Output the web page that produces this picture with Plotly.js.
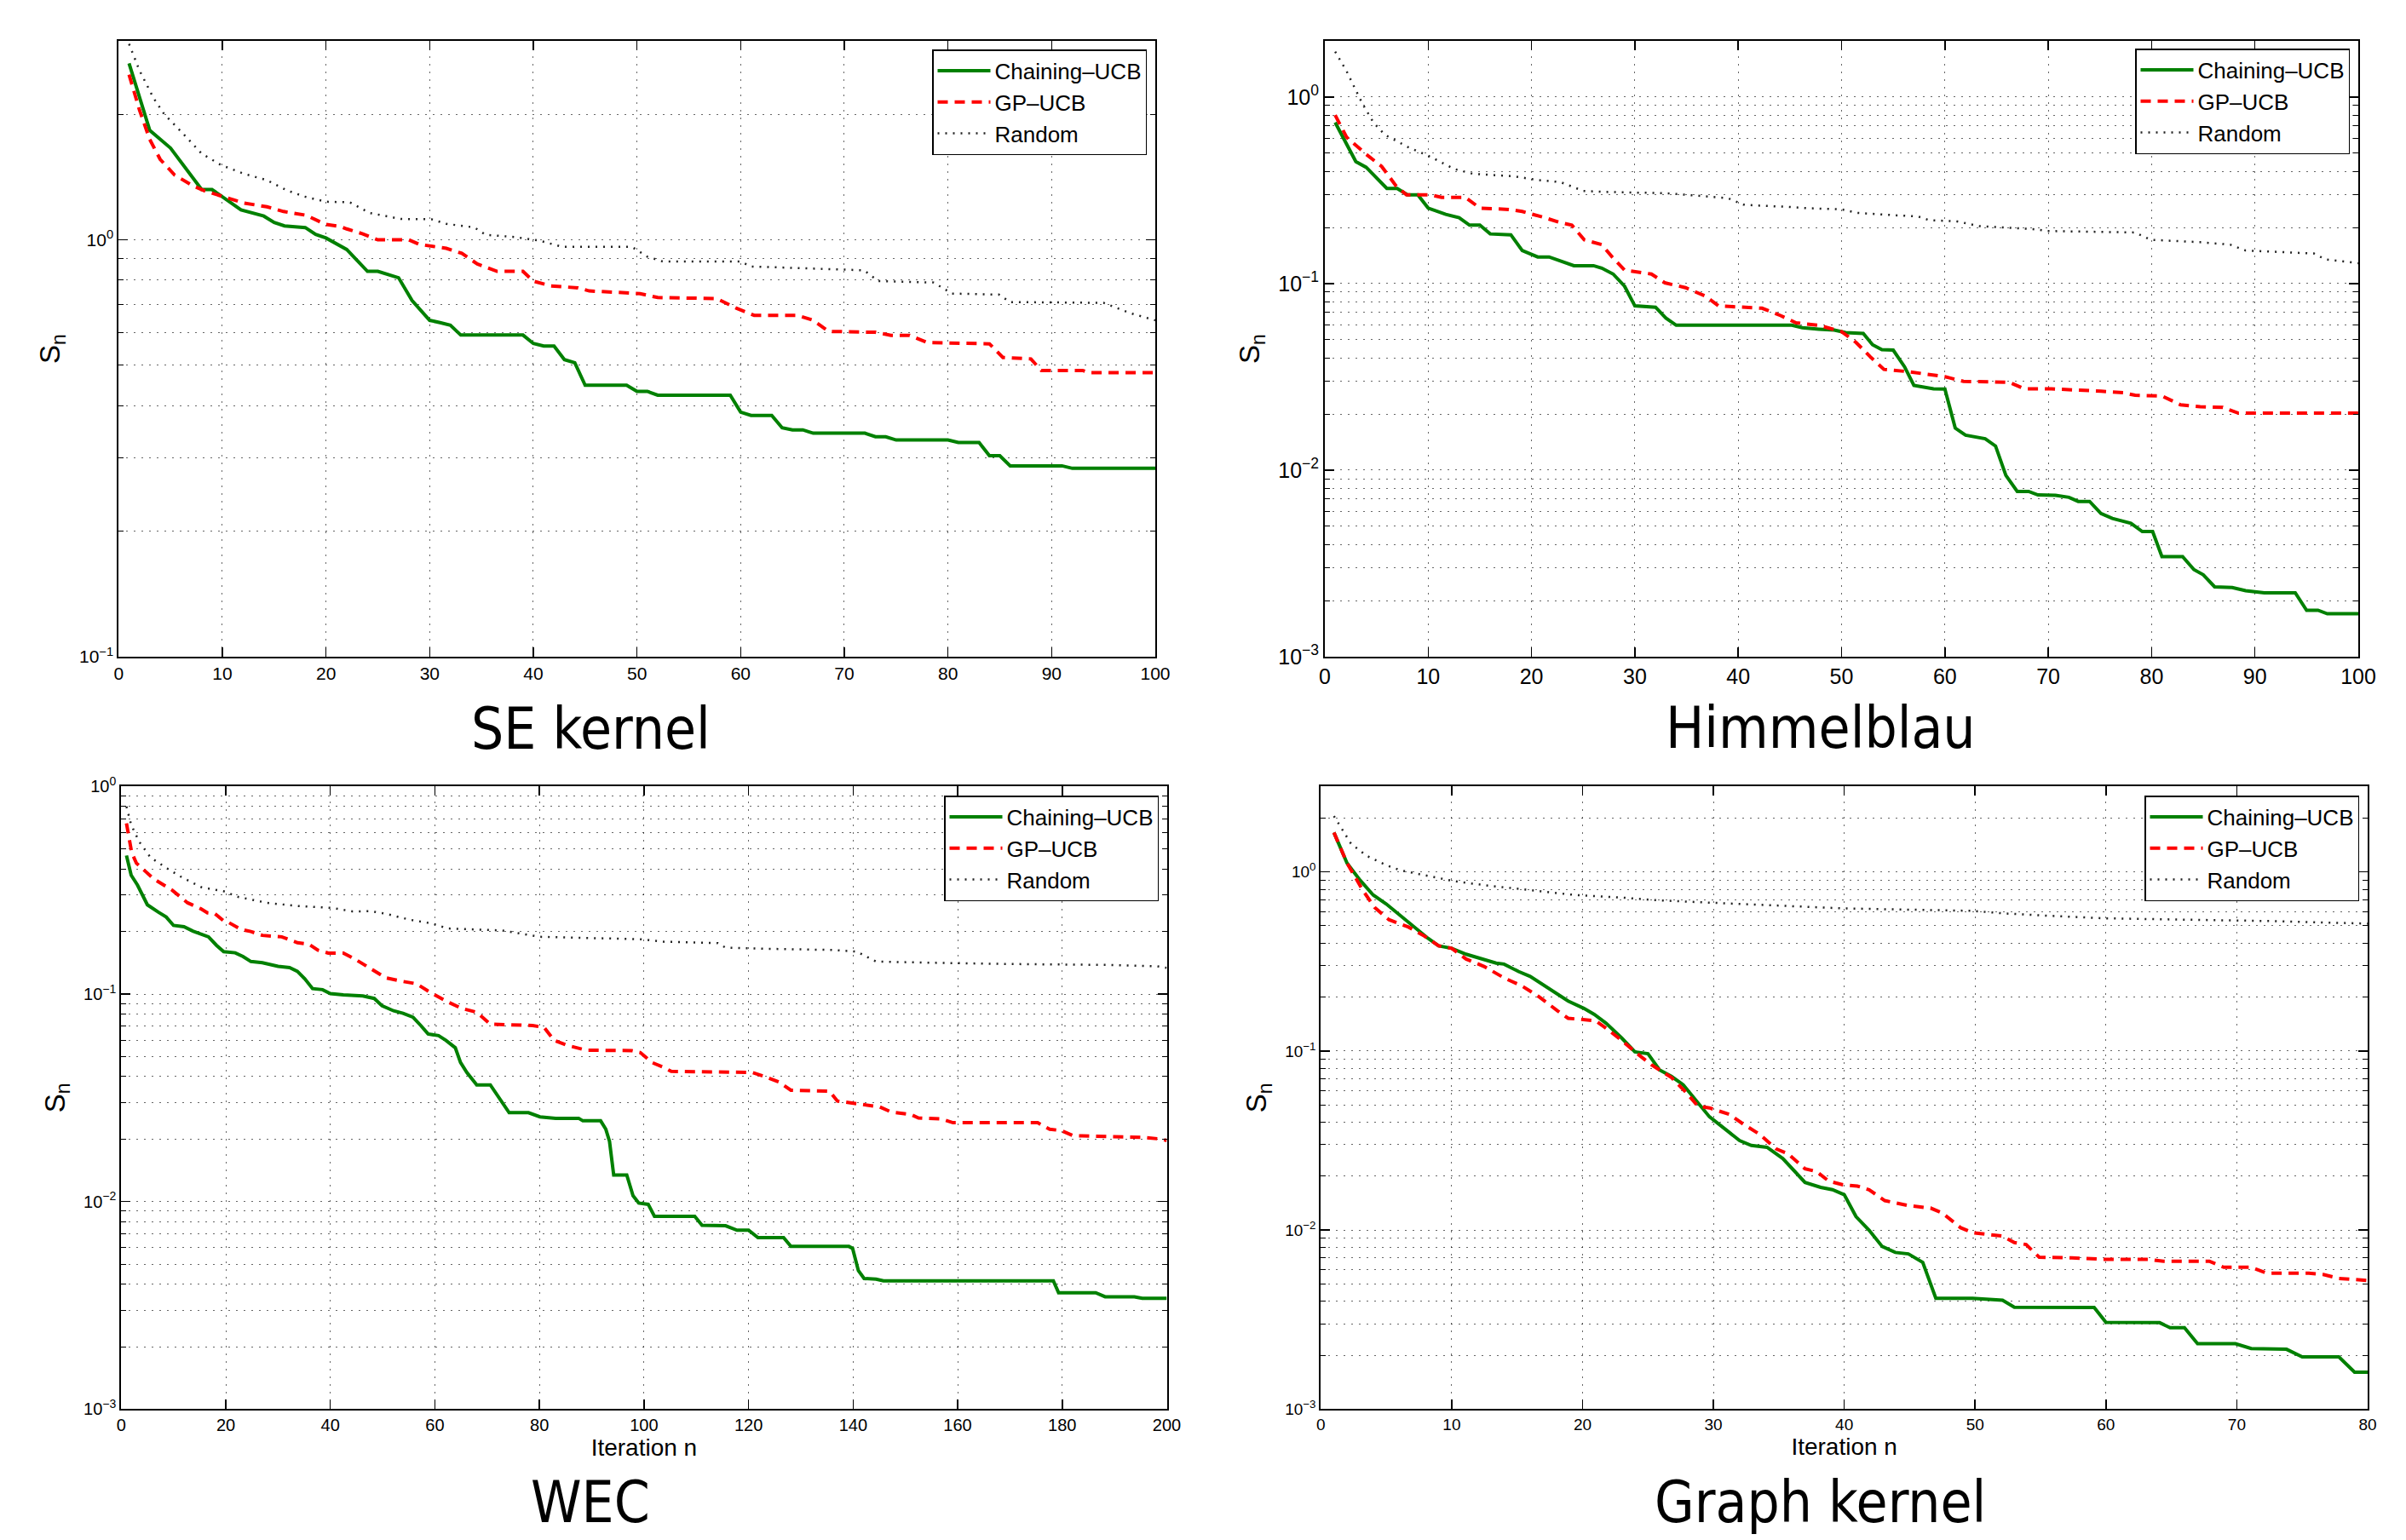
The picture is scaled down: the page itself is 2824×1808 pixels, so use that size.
<!DOCTYPE html>
<html><head><meta charset="utf-8">
<script src="https://cdn.plot.ly/plotly-3.0.1.min.js"></script>
<style>html,body{margin:0;padding:0;background:#fff}#chart{width:2824px;height:1808px}</style>
</head><body><div id="chart"></div>
<script>
// ---------------- data (iteration, S_n) ----------------
const seChaining = [[1,2.65],[3,1.83],[5,1.66],[6.3,1.50],[8,1.32],[9,1.32],[10,1.27],[11.8,1.18],[14,1.14],[15,1.10],[16,1.08],[18,1.07],[19,1.03],[20,1.01],[22,0.948],[24,0.84],[25,0.84],[27,0.811],[28.3,0.715],[30,0.641],[31,0.633],[32,0.624],[33,0.591],[39,0.591],[40,0.564],[41,0.556],[42,0.556],[43,0.516],[44,0.507],[45,0.448],[49,0.448],[50,0.433],[51,0.433],[52,0.424],[59,0.424],[60,0.386],[61,0.379],[63,0.379],[64,0.354],[65,0.350],[66,0.350],[67,0.3436],[72,0.3436],[73,0.337],[74,0.337],[75,0.331],[80,0.331],[81,0.3266],[83,0.3266],[84,0.3035],[85,0.3035],[86,0.287],[91,0.287],[92,0.283],[100,0.283]];
const seGPUCB = [[1,2.49],[2,2.05],[3,1.74],[4,1.56],[5.4,1.43],[7.2,1.346],[8.3,1.31],[10.5,1.258],[12.1,1.225],[14.3,1.20],[15.9,1.169],[18.1,1.145],[19.9,1.09],[21.4,1.076],[22,1.062],[23.5,1.034],[25,1.0],[28,1.0],[29,0.975],[31.6,0.954],[33.1,0.928],[34.6,0.875],[36.5,0.84],[39,0.84],[40,0.796],[41.7,0.775],[44.3,0.767],[45.4,0.754],[48,0.75],[50.3,0.743],[52,0.727],[57.7,0.723],[59.6,0.685],[61.3,0.659],[65.5,0.659],[67,0.641],[68.5,0.603],[73,0.6],[74.5,0.59],[76.3,0.59],[78,0.567],[84,0.563],[85.3,0.522],[88,0.518],[89,0.486],[93,0.486],[93.6,0.48],[100,0.48]];
const seRandom = [[1,2.95],[2,2.55],[3.35,2.19],[4.4,2.0],[6.1,1.81],[8,1.61],[9.9,1.51],[12.1,1.44],[14.3,1.39],[16.2,1.315],[17.9,1.27],[20,1.234],[22.3,1.23],[24.2,1.16],[27.2,1.122],[30.2,1.12],[31.6,1.092],[34.3,1.071],[35.4,1.028],[38.3,1.015],[40.6,0.995],[42.8,0.962],[49.5,0.962],[51,0.911],[52.5,0.887],[60,0.887],[61,0.863],[69.6,0.851],[71.9,0.845],[73.3,0.796],[78.6,0.79],[80.4,0.743],[84.9,0.739],[86,0.709],[95,0.706],[97.5,0.668],[100,0.641]];

const hbChaining = [[1,0.731],[3,0.451],[4,0.42],[6,0.3236],[7,0.3236],[8,0.299],[9,0.299],[10,0.254],[11.7,0.235],[13,0.2254],[14,0.2058],[15,0.2058],[16,0.1846],[18,0.1826],[19.1,0.1504],[20.6,0.139],[21.7,0.139],[24.1,0.1248],[26,0.1248],[26.8,0.121],[27.9,0.1125],[29,0.0969],[30,0.076],[32,0.0747],[33,0.0654],[34,0.0598],[45.2,0.0598],[46.2,0.058],[47.8,0.057],[49.3,0.0563],[50.4,0.0546],[52.1,0.054],[53,0.047],[53.9,0.0442],[55,0.044],[56.1,0.0358],[57,0.0285],[58.9,0.0273],[60,0.0272],[61,0.0168],[62,0.0154],[63.9,0.01474],[64.9,0.01346],[65.9,0.00937],[67,0.00769],[68.1,0.00769],[69,0.00737],[70.7,0.00733],[72,0.00715],[72.9,0.0068],[74,0.0068],[75.1,0.00586],[76.2,0.00551],[78,0.00519],[79.1,0.00469],[80.1,0.00469],[81,0.00344],[83,0.00344],[84.1,0.00293],[85,0.00275],[86.1,0.00237],[87.8,0.00235],[89.1,0.00226],[90.9,0.0022],[93.9,0.0022],[95,0.001774],[96.1,0.001774],[97,0.0017],[100,0.0017]];
const hbGPUCB = [[1,0.8],[2.1,0.61],[4,0.4935],[5.5,0.4245],[6.9,0.3337],[7.9,0.299],[10.2,0.299],[11.3,0.29],[13.6,0.29],[15,0.254],[17.8,0.2496],[19.1,0.2437],[21.3,0.2254],[22.8,0.2122],[23.9,0.2058],[25.1,0.1718],[26.8,0.1617],[27.8,0.139],[29,0.1182],[31.6,0.1125],[32.9,0.101],[34.9,0.0951],[36.8,0.0858],[38.1,0.076],[42.3,0.0738],[44.1,0.0674],[45.6,0.0616],[47.8,0.0598],[50,0.0553],[51.4,0.0484],[52.8,0.0404],[54.1,0.0347],[56.5,0.0337],[58.1,0.0327],[60,0.0317],[61.8,0.0299],[66.2,0.0296],[67.7,0.0273],[70.3,0.0273],[75.1,0.0265],[77.3,0.026],[78.4,0.0252],[81,0.025],[82.8,0.0224],[84.7,0.0219],[86.9,0.0217],[88.4,0.0202],[100,0.0202]];
const hbRandom = [[1,1.75],[2.1,1.377],[3.6,0.93],[4.7,0.731],[5.8,0.628],[8,0.5406],[10.2,0.479],[12.5,0.412],[14.3,0.388],[18.3,0.376],[20.6,0.359],[22.8,0.35],[25,0.314],[27.2,0.31],[33.1,0.305],[39,0.287],[40.5,0.2653],[41.9,0.262],[44.9,0.2577],[46.4,0.254],[50,0.25],[51.5,0.2394],[55.2,0.2323],[57.4,0.229],[58.5,0.2186],[61.1,0.216],[63.3,0.2034],[68.5,0.196],[69.9,0.1914],[78.4,0.188],[79.9,0.1718],[84.7,0.1667],[87.6,0.1618],[89.1,0.1504],[95.7,0.145],[96.8,0.135],[100,0.1286]];

const wecChaining = [[1,0.465],[1.9,0.3736],[3.1,0.335],[5,0.269],[7.1,0.248],[8.6,0.235],[10,0.214],[12,0.211],[13.7,0.201],[15.5,0.194],[16.7,0.1886],[18.2,0.1718],[19.6,0.16],[21.8,0.158],[23.3,0.1515],[24.8,0.1434],[27,0.1416],[30,0.1359],[32.2,0.134],[33.7,0.1286],[35.1,0.1185],[36.6,0.1062],[38.5,0.105],[40,0.1005],[42.5,0.099],[46.2,0.0978],[48.4,0.0952],[49.9,0.0877],[52.1,0.083],[53.9,0.0808],[55.8,0.0774],[57.3,0.0705],[58.7,0.0642],[60.7,0.063],[62.1,0.0598],[63.9,0.0551],[64.9,0.0468],[66.1,0.0419],[68,0.0365],[70.6,0.0365],[72.5,0.031],[74.2,0.0268],[77.9,0.0268],[80.1,0.0256],[83.1,0.0252],[87.5,0.0252],[88.3,0.0245],[91.7,0.0245],[92.7,0.0223],[93.4,0.0195],[94.2,0.01343],[96.7,0.01343],[97.9,0.01068],[99,0.00984],[100.8,0.0097],[102,0.00849],[109.7,0.00849],[111.1,0.00769],[115.6,0.00765],[117.8,0.00728],[120,0.00728],[121.8,0.0067],[126.7,0.0067],[128.1,0.00608],[139.2,0.00608],[139.9,0.00595],[141,0.00465],[142.1,0.00426],[144.4,0.00423],[145.8,0.00415],[178.3,0.00415],[179.3,0.00364],[186.4,0.00364],[188.2,0.00348],[193.8,0.00348],[195.3,0.00342],[200,0.00342]];
const wecGPUCB = [[1,0.664],[2,0.48],[2.9,0.427],[6.2,0.359],[9.7,0.317],[12.7,0.275],[15.2,0.2576],[16.5,0.246],[17.9,0.244],[19.7,0.224],[20.4,0.2222],[22.9,0.2047],[24.8,0.2],[27,0.1917],[30.7,0.1886],[33.7,0.1767],[35.9,0.1738],[37.6,0.1627],[39.6,0.1575],[42.5,0.1575],[44.7,0.1474],[47.7,0.1322],[50.6,0.1197],[53.6,0.1153],[56.5,0.112],[58.7,0.1033],[62.1,0.0926],[65.1,0.0853],[68,0.0817],[70.6,0.0716],[78.7,0.0705],[80.9,0.069],[82.8,0.0598],[85.3,0.0566],[89,0.0536],[97.6,0.0534],[99.3,0.0522],[101.5,0.0468],[103.8,0.0443],[105.2,0.0424],[120.7,0.0419],[123,0.0401],[125.9,0.0376],[128.1,0.0344],[135.5,0.034],[137,0.0305],[145.1,0.0286],[147.3,0.027],[151,0.0263],[152.5,0.0253],[156.9,0.025],[159.1,0.024],[175.3,0.024],[177.6,0.0223],[179.8,0.022],[182,0.0208],[189.4,0.0206],[195.3,0.0204],[199,0.02],[200,0.0197]];
const wecRandom = [[1,0.8],[1.9,0.653],[3.45,0.541],[5.6,0.455],[8.9,0.401],[11.6,0.365],[15.3,0.327],[19.7,0.312],[22.5,0.293],[27.9,0.275],[33.3,0.266],[40.3,0.26],[44.2,0.25],[47.7,0.2506],[50.6,0.2438],[55,0.2285],[59.5,0.2186],[62.4,0.207],[72.8,0.2024],[77.2,0.194],[80.1,0.1886],[99.3,0.1836],[103.8,0.1786],[114.1,0.176],[115.6,0.1672],[124.4,0.165],[136.2,0.163],[140.7,0.16],[144.4,0.1434],[154,0.1416],[168.7,0.1396],[189.7,0.138],[198.2,0.136],[200,0.1336]];

const gkChaining = [[1,1.66],[2,1.12],[3,0.898],[4,0.743],[5,0.662],[6.1,0.569],[7.4,0.4765],[8.2,0.425],[9,0.3866],[10,0.3745],[11.1,0.347],[12.2,0.33],[13.4,0.3095],[14,0.3056],[15.1,0.278],[16,0.261],[16.9,0.237],[18.1,0.2063],[18.9,0.19],[20.1,0.1729],[20.9,0.16],[21.8,0.1429],[23,0.118],[24,0.0989],[25,0.0965],[25.9,0.0782],[26.8,0.0721],[27.7,0.0647],[28.8,0.0518],[29.7,0.0429],[30.9,0.0366],[32,0.0316],[32.9,0.0297],[34.1,0.029],[35.3,0.0251],[37,0.01845],[38.2,0.01732],[39.1,0.0168],[40,0.01575],[40.9,0.0119],[41.9,0.00998],[42.9,0.0081],[43.9,0.0075],[44.9,0.00736],[46,0.0066],[47,0.00416],[49.8,0.00416],[50.7,0.00411],[52.1,0.00406],[53,0.00371],[59.1,0.0037],[60,0.00305],[64.1,0.00304],[64.9,0.00285],[66,0.00285],[67,0.00232],[69.9,0.00232],[71.1,0.00218],[73.8,0.00216],[75,0.00196],[77.8,0.00196],[79,0.00161],[80,0.00161]];
const gkGPUCB = [[1,1.66],[2,1.12],[3.2,0.791],[4.1,0.634],[5.2,0.541],[6.7,0.492],[7.9,0.4387],[9,0.3866],[10,0.3745],[11.1,0.326],[12.5,0.296],[14,0.256],[15.4,0.23],[16.6,0.2024],[18.1,0.1675],[18.9,0.1523],[21,0.1475],[21.8,0.134],[23,0.1145],[24,0.0989],[25.3,0.0834],[26.8,0.0711],[27.9,0.0589],[28.8,0.0493],[29.7,0.0481],[31.2,0.0443],[32.3,0.039],[33.5,0.0344],[34.8,0.0284],[35.7,0.0267],[37,0.022],[37.9,0.0212],[38.8,0.0188],[39.9,0.0179],[41,0.0176],[41.9,0.0168],[43.1,0.0146],[44.9,0.0137],[46.6,0.01327],[47.5,0.01245],[48.9,0.0103],[49.8,0.00967],[52.1,0.00925],[53,0.00852],[53.9,0.0083],[54.9,0.00705],[57.4,0.007],[59.7,0.00687],[63.2,0.00687],[64.4,0.0067],[67.9,0.0067],[69,0.0062],[71.1,0.0062],[72.3,0.00575],[75.5,0.00575],[76.6,0.00565],[77.8,0.00537],[80,0.00523]];
const gkRandom = [[1,2.05],[1.57,1.75],[2.3,1.44],[3.5,1.23],[5,1.09],[6.1,1.02],[7.9,0.957],[10.2,0.887],[12.5,0.843],[16,0.791],[19.5,0.742],[23,0.719],[25.3,0.697],[29.4,0.675],[35.2,0.646],[39.9,0.6256],[49.8,0.606],[52.1,0.587],[55.6,0.569],[59.7,0.551],[66.1,0.541],[73.1,0.5307],[80,0.514]];

const seriesNames = ['Chaining\u2013UCB', 'GP\u2013UCB', 'Random'];
const panelTitles = ['SE kernel', 'Himmelblau', 'WEC', 'Graph kernel'];
const xLabel = 'Iteration n';
const yLabel = 'S<sub>n</sub>';
const xRanges = [[0,100],[0,100],[0,200],[0,80]];
const xTickSteps = [10, 10, 20, 10];
const yRangesLin = [[0.1,3],[0.001,2],[0.001,1],[0.001,3]];
const yTickVals = [[0.1,1],[0.001,0.01,0.1,1],[0.001,0.01,0.1,1],[0.001,0.01,0.1,1]];
const yTickText = [
  ['10<sup>\u22121</sup>','10<sup>0</sup>'],
  ['10<sup>\u22123</sup>','10<sup>\u22122</sup>','10<sup>\u22121</sup>','10<sup>0</sup>'],
  ['10<sup>\u22123</sup>','10<sup>\u22122</sup>','10<sup>\u22121</sup>','10<sup>0</sup>'],
  ['10<sup>\u22123</sup>','10<sup>\u22122</sup>','10<sup>\u22121</sup>','10<sup>0</sup>']
];

// ---------------- layout geometry (pixels of the 2824x1808 page) ----------------
const W = 2824, H = 1808;
const boxes = [
  {l:139.3, r:1356, t:48, b:771},
  {l:1555, r:2768, t:48, b:771},
  {l:142.3, r:1369.5, t:923.3, b:1654.4},
  {l:1550.3, r:2779, t:923.3, b:1654.4}
];
const tickFont = [21, 25, 20, 19];
const legendPos = [[1346,58],[2758,57],[1360,934],[2769,934]];
const titlePos = [[693,856],[2137,855],[693,1764],[2136,1764]];

const FONT = 'Liberation Sans, Arial, Helvetica, sans-serif';
const GRID = 'rgba(0,0,0,0.6)';
const GDASH = '2px,7px';

const colors = ['#008000', '#ff0000', '#222222'];
const dashes = ['solid', '12px,8px', '2px,7px'];
const widths = [4, 4, 2.5];

const allSeries = [
  [seChaining, seGPUCB, seRandom],
  [hbChaining, hbGPUCB, hbRandom],
  [wecChaining, wecGPUCB, wecRandom],
  [gkChaining, gkGPUCB, gkRandom]
];

function minorVals(lo, hi) {
  const v = [];
  const e0 = Math.floor(Math.log10(lo)), e1 = Math.ceil(Math.log10(hi));
  for (let e = e0; e <= e1; e++) for (let m = 2; m <= 9; m++) {
    const val = m * Math.pow(10, e);
    if (val > lo * 1.0001 && val < hi * 0.9999) v.push(val);
  }
  return v;
}

const traces = [];
const layout = {
  width: W, height: H,
  margin: {l:0, r:0, t:0, b:0},
  paper_bgcolor: '#fff', plot_bgcolor: '#fff',
  showlegend: true,
  font: {family: FONT, color: '#000'},
  annotations: []
};

for (let p = 0; p < 4; p++) {
  const sfx = p === 0 ? '' : String(p + 1);
  const legKey = 'legend' + sfx;
  for (let s = 0; s < 3; s++) {
    const d = allSeries[p][s];
    traces.push({
      type: 'scatter', mode: 'lines',
      x: d.map(q => q[0]), y: d.map(q => q[1]),
      name: seriesNames[s],
      xaxis: 'x' + sfx, yaxis: 'y' + sfx,
      legend: legKey,
      line: {color: colors[s], width: widths[s], dash: dashes[s]},
      hoverinfo: 'skip'
    });
  }
  const b = boxes[p];
  const fs = tickFont[p];
  const xa = {
    domain: [b.l / W, b.r / W], anchor: 'y' + sfx,
    range: xRanges[p], dtick: xTickSteps[p], tick0: 0, tickmode: 'linear',
    showline: true, linecolor: '#000', linewidth: 2, mirror: 'ticks',
    ticks: 'inside', ticklen: 11, tickwidth: 1.5, tickcolor: '#000',
    showgrid: true, gridcolor: GRID, gridwidth: 1, griddash: GDASH,
    zeroline: false,
    tickfont: {family: FONT, size: fs, color: '#000'}
  };
  if (p >= 2) xa.title = {text: xLabel, font: {family: FONT, size: 28, color: '#000'}, standoff: 4};
  const yr = yRangesLin[p];
  const ya = {
    domain: [1 - b.b / H, 1 - b.t / H], anchor: 'x' + sfx,
    type: 'log', range: [Math.log10(yr[0]), Math.log10(yr[1])],
    tickmode: 'array', tickvals: yTickVals[p], ticktext: yTickText[p],
    showline: true, linecolor: '#000', linewidth: 2, mirror: 'ticks',
    ticks: 'inside', ticklen: 11, tickwidth: 1.5, tickcolor: '#000',
    showgrid: true, gridcolor: GRID, gridwidth: 1, griddash: GDASH,
    zeroline: false,
    tickfont: {family: FONT, size: fs, color: '#000'},
    minor: {tickmode: 'array', tickvals: minorVals(yr[0], yr[1]),
            ticks: 'inside', ticklen: 6, tickwidth: 1, tickcolor: '#000',
            showgrid: true, gridcolor: GRID, gridwidth: 1, griddash: GDASH},
    title: {text: yLabel, font: {family: FONT, size: 33, color: '#000'}, standoff: 12}
  };
  layout['xaxis' + sfx] = xa;
  layout['yaxis' + sfx] = ya;
  layout[legKey] = {
    x: legendPos[p][0] / W, y: 1 - legendPos[p][1] / H,
    xanchor: 'right', yanchor: 'top',
    bgcolor: '#fff', bordercolor: '#000', borderwidth: 1.5,
    font: {family: FONT, size: 26, color: '#000'},
    itemwidth: 62, tracegroupgap: 0, traceorder: 'normal'
  };
  layout.annotations.push({
    xref: 'paper', yref: 'paper', showarrow: false,
    x: titlePos[p][0] / W, y: 1 - titlePos[p][1] / H,
    xanchor: 'center', yanchor: 'middle',
    text: panelTitles[p],
    font: {family: 'DejaVu Sans Condensed, DejaVu Sans, sans-serif', size: 67, color: '#000'}
  });
}

Plotly.newPlot('chart', traces, layout, {staticPlot: true, displayModeBar: false});
</script>
</body></html>
